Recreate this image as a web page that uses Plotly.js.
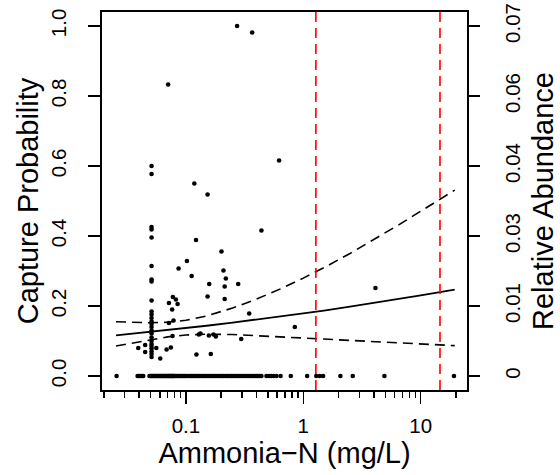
<!DOCTYPE html>
<html>
<head>
<meta charset="utf-8">
<script src="https://cdn.plot.ly/plotly-3.0.1.min.js"></script>
<style>html,body{margin:0;padding:0;background:#fff;}#chart{width:560px;height:475px;}</style>
</head>
<body>
<div id="chart"></div>
<script>
// Observed points: ammonia (mg/L) vs relative abundance (right axis)
const ptAmmonia = [
  0.273, 0.367, 0.0706, 0.051, 0.051, 0.118, 0.153, 0.622, 0.051, 0.051, 0.051, 0.44,
  0.122, 0.201, 0.102, 0.0867, 0.051, 0.209, 0.219, 0.112, 0.051, 0.051, 0.158, 0.214,
  0.279, 0.153, 0.214, 0.051, 0.0775, 0.0822, 0.085, 0.0717, 0.0764, 0.346, 0.0717, 0.0785,
  0.847, 4.12,
  0.051, 0.051, 0.051, 0.051, 0.051, 0.051, 0.051, 0.051, 0.051, 0.051, 0.051, 0.051,
  0.051, 0.051, 0.051, 0.051,
  0.077, 0.129, 0.133, 0.157, 0.172, 0.18, 0.296, 0.0393, 0.045, 0.045, 0.0605, 0.0685,
  0.0745, 0.123, 0.163, 0.056
];
const ptAbundance = [
  0.0700, 0.0687, 0.0583, 0.0420, 0.0404, 0.0385, 0.0363, 0.0431, 0.0298, 0.0293, 0.0277, 0.0291,
  0.0272, 0.0249, 0.0230, 0.0215, 0.0220, 0.0211, 0.0195, 0.0200, 0.0193, 0.0189, 0.0184, 0.0179,
  0.0184, 0.0159, 0.0154, 0.0151, 0.0158, 0.0153, 0.0144, 0.0146, 0.0133, 0.0125, 0.0106, 0.0111,
  0.0098, 0.0176,
  0.0129, 0.0123, 0.0116, 0.0109, 0.0104, 0.0098, 0.0091, 0.0085, 0.0077, 0.0070, 0.0064, 0.0060,
  0.0055, 0.0049, 0.0044, 0.0038,
  0.0080, 0.0083, 0.0085, 0.0081, 0.0083, 0.0079, 0.0074, 0.0056, 0.0062, 0.0048, 0.0035, 0.0053,
  0.0057, 0.0043, 0.0044, 0.0056
];
// Sites with zero abundance
const zeroAmmonia = [
  0.0257, 0.0388, 0.0397, 0.0406, 0.042, 0.0433,
  0.049, 0.05, 0.051, 0.052, 0.053, 0.054, 0.055, 0.056, 0.057, 0.058, 0.059, 0.06, 0.061, 0.062,
  0.063, 0.064, 0.065, 0.066, 0.067, 0.068, 0.069, 0.07, 0.071, 0.072, 0.073, 0.074, 0.075, 0.076,
  0.077, 0.078, 0.079, 0.08, 0.082, 0.084, 0.086, 0.088, 0.09, 0.092, 0.094, 0.096, 0.098, 0.1,
  0.103, 0.106, 0.109, 0.112, 0.115, 0.118, 0.121, 0.124, 0.127, 0.13, 0.134, 0.138, 0.142, 0.146,
  0.15, 0.155, 0.16, 0.165, 0.17, 0.175, 0.18, 0.186, 0.192, 0.198, 0.204, 0.21, 0.217, 0.224,
  0.231, 0.238, 0.245, 0.253, 0.261, 0.269, 0.277, 0.286, 0.295, 0.304, 0.313, 0.323, 0.333, 0.343,
  0.354, 0.365, 0.376, 0.388, 0.4, 0.412, 0.425, 0.44,
  0.486, 0.51, 0.535, 0.56, 0.59, 0.64, 0.783, 1.079, 1.29, 1.38, 1.475, 2.07, 2.64, 4.91, 19.2
];
const zeroAbundance = zeroAmmonia.map(() => 0);

// Fitted capture probability and confidence band (left axis)
const fitAmmonia = [0.0254, 0.035, 0.05, 0.07, 0.1, 0.15, 0.25, 0.4, 0.65, 1, 1.5, 2.5, 4, 6.5, 10, 15, 19.5];
const fitProb    = [0.1161, 0.1207, 0.1260, 0.1312, 0.1369, 0.1436, 0.1525, 0.1610, 0.1702, 0.1789, 0.1871, 0.1981, 0.2085, 0.2198, 0.2302, 0.2401, 0.2469];
const upperProb  = [0.1551, 0.1532, 0.1521, 0.1536, 0.1592, 0.1715, 0.1943, 0.2198, 0.2499, 0.2797, 0.3096, 0.3502, 0.3894, 0.4319, 0.4708, 0.5072, 0.5311];
const lowerProb  = [0.0859, 0.0943, 0.1038, 0.1117, 0.1173, 0.1195, 0.1184, 0.1156, 0.1121, 0.1089, 0.1056, 0.1017, 0.0981, 0.0945, 0.0914, 0.0884, 0.0867];

// Threshold lines (mg/L)
const thresholds = [1.28, 14.6];

// Tick labels
const xTickVals = [0.1, 1, 10];
const xTickText = ['0.1', '1', '10'];
const xMinorVals = [0.02,0.03,0.04,0.05,0.06,0.07,0.08,0.09,0.2,0.3,0.4,0.5,0.6,0.7,0.8,0.9,2,3,4,5,6,7,8,9,20];
const yTickVals = [0, 0.2, 0.4, 0.6, 0.8, 1.0];
const yTickText = ['0.0', '0.2', '0.4', '0.6', '0.8', '1.0'];
const y2TickVals = [0, 0.014, 0.028, 0.042, 0.056, 0.07];
const y2TickText = ['0', '0.01', '0.03', '0.04', '0.06', '0.07'];

const FONT = '"Liberation Sans", Arial, Helvetica, sans-serif';

const traces = [
  { x: fitAmmonia, y: fitProb, mode: 'lines', line: {color: '#000', width: 1.8}, yaxis: 'y', hoverinfo: 'skip' },
  { x: fitAmmonia, y: upperProb, mode: 'lines', line: {color: '#000', width: 1.6, dash: '10px,6px'}, yaxis: 'y', hoverinfo: 'skip' },
  { x: fitAmmonia, y: lowerProb, mode: 'lines', line: {color: '#000', width: 1.6, dash: '10px,6px'}, yaxis: 'y', hoverinfo: 'skip' }
];
thresholds.forEach(t => {
  traces.push({ x: [t, t], y: [-0.04, 1.04], mode: 'lines', line: {color: '#ff0000', width: 1.6, dash: '10px,6px'}, yaxis: 'y', hoverinfo: 'skip' });
});
traces.push({ x: ptAmmonia.concat(zeroAmmonia), y: ptAbundance.concat(zeroAbundance), mode: 'markers',
  marker: {color: '#000', size: 4.6}, yaxis: 'y2' });

const layout = {
  width: 560, height: 475,
  margin: {l: 102, r: 93, t: 12, b: 85},
  paper_bgcolor: '#fff', plot_bgcolor: '#fff',
  showlegend: false,
  font: {family: FONT, color: '#000', size: 20},
  xaxis: {
    type: 'log', range: [Math.log10(0.0193), Math.log10(24.8)],
    tickmode: 'array', tickvals: xTickVals, ticktext: xTickText,
    ticks: 'outside', ticklen: 12, tickwidth: 1.5, tickcolor: '#000',
    minor: {tickmode: 'array', tickvals: xMinorVals, ticks: 'outside', ticklen: 6, tickwidth: 1.5, tickcolor: '#000', showgrid: false},
    showline: true, mirror: true, linecolor: '#000', linewidth: 1.8,
    showgrid: false, zeroline: false,
    tickfont: {size: 20.5}, ticklabelstandoff: 5,
    title: {text: 'Ammonia\u2212N (mg/L)', font: {size: 29}, standoff: 2}
  },
  yaxis: {
    range: [-0.04, 1.04],
    tickmode: 'array', tickvals: yTickVals, ticktext: yTickText, tickangle: -90,
    ticks: 'outside', ticklen: 12, tickwidth: 1.5, tickcolor: '#000',
    showline: true, mirror: true, linecolor: '#000', linewidth: 1.8,
    showgrid: false, zeroline: false,
    tickfont: {size: 20.5}, ticklabelstandoff: 14,
    title: {text: 'Capture Probability', font: {size: 29}, standoff: 0}
  },
  yaxis2: {
    overlaying: 'y', side: 'right', anchor: 'x',
    range: [-0.0028, 0.0728],
    tickmode: 'array', tickvals: y2TickVals, ticktext: y2TickText, tickangle: -90,
    ticks: 'outside', ticklen: 12, tickwidth: 1.5, tickcolor: '#000',
    showline: false, showgrid: false, zeroline: false,
    tickfont: {size: 20.5}, ticklabelstandoff: 15,
    title: {text: 'Relative Abundance', font: {size: 29}, standoff: 10}
  }
};

Plotly.newPlot('chart', traces, layout, {staticPlot: true, displayModeBar: false});
</script>
</body>
</html>
